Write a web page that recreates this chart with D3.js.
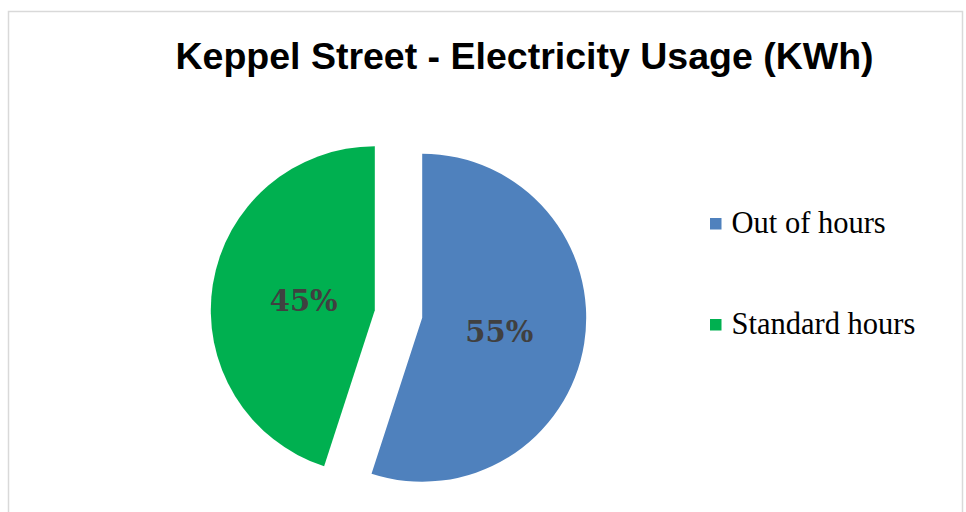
<!DOCTYPE html>
<html>
<head>
<meta charset="utf-8">
<script src="https://cdn.jsdelivr.net/npm/d3@7"></script>
<style>
  html, body { margin: 0; padding: 0; background: #ffffff; }
  svg { display: block; }
</style>
</head>
<body>
<svg id="chart" width="966" height="512"></svg>
<script>
// Electricity usage split for Keppel Street
const categories = ["Out of hours", "Standard hours"];
const values = [55, 45];
const colors = ["#4F81BD", "#00B050"];
const title = "Keppel Street - Electricity Usage (KWh)";

const svg = d3.select("#chart");

// chart frame
svg.append("rect")
  .attr("x", 8.5).attr("y", 11.5)
  .attr("width", 954).attr("height", 540)
  .attr("fill", "none")
  .attr("stroke", "#d9d9d9")
  .attr("stroke-width", 1.5);

// title
svg.append("text")
  .attr("x", 524.5).attr("y", 69)
  .attr("text-anchor", "middle")
  .attr("font-family", "Liberation Sans, Arial, sans-serif")
  .attr("font-weight", "bold")
  .attr("font-size", 37.5)
  .attr("fill", "#000")
  .text(title);

// pie
const cx = 398.5, cy = 314, radius = 164, explode = 24, labelR = 75;
const total = d3.sum(values);
const pie = d3.pie().sort(null).startAngle(0).endAngle(2 * Math.PI);
const arcs = pie(values);
const arc = d3.arc().innerRadius(0).outerRadius(radius);
const fmt = d3.format(".0%");

const g = svg.append("g").attr("transform", `translate(${cx},${cy})`);

const slices = g.selectAll("g.slice")
  .data(arcs)
  .join("g")
  .attr("class", "slice")
  .attr("transform", d => {
    const a = (d.startAngle + d.endAngle) / 2;
    return `translate(${explode * Math.sin(a)},${-explode * Math.cos(a)})`;
  });

slices.append("path")
  .attr("d", arc)
  .attr("fill", (d, i) => colors[i]);

slices.append("text")
  .attr("x", d => labelR * Math.sin((d.startAngle + d.endAngle) / 2) + 3)
  .attr("y", d => -labelR * Math.cos((d.startAngle + d.endAngle) / 2) + 2)
  .attr("dy", "0.36em")
  .attr("text-anchor", "middle")
  .attr("font-family", "DejaVu Serif, serif")
  .attr("font-weight", "bold")
  .attr("font-size", 29)
  .attr("fill", "#404040")
  .text(d => fmt(d.value / total));

// legend
const legend = svg.append("g")
  .selectAll("g")
  .data(categories)
  .join("g")
  .attr("transform", (d, i) => `translate(710,${233 + i * 101})`);

legend.append("rect")
  .attr("x", 0).attr("y", -15)
  .attr("width", 11.5).attr("height", 11.5)
  .attr("fill", (d, i) => colors[i]);

legend.append("text")
  .attr("x", 21.5).attr("y", 0)
  .attr("font-family", "Liberation Serif, serif")
  .attr("font-size", 30.5)
  .attr("fill", "#000")
  .text(d => d);
</script>
</body>
</html>
